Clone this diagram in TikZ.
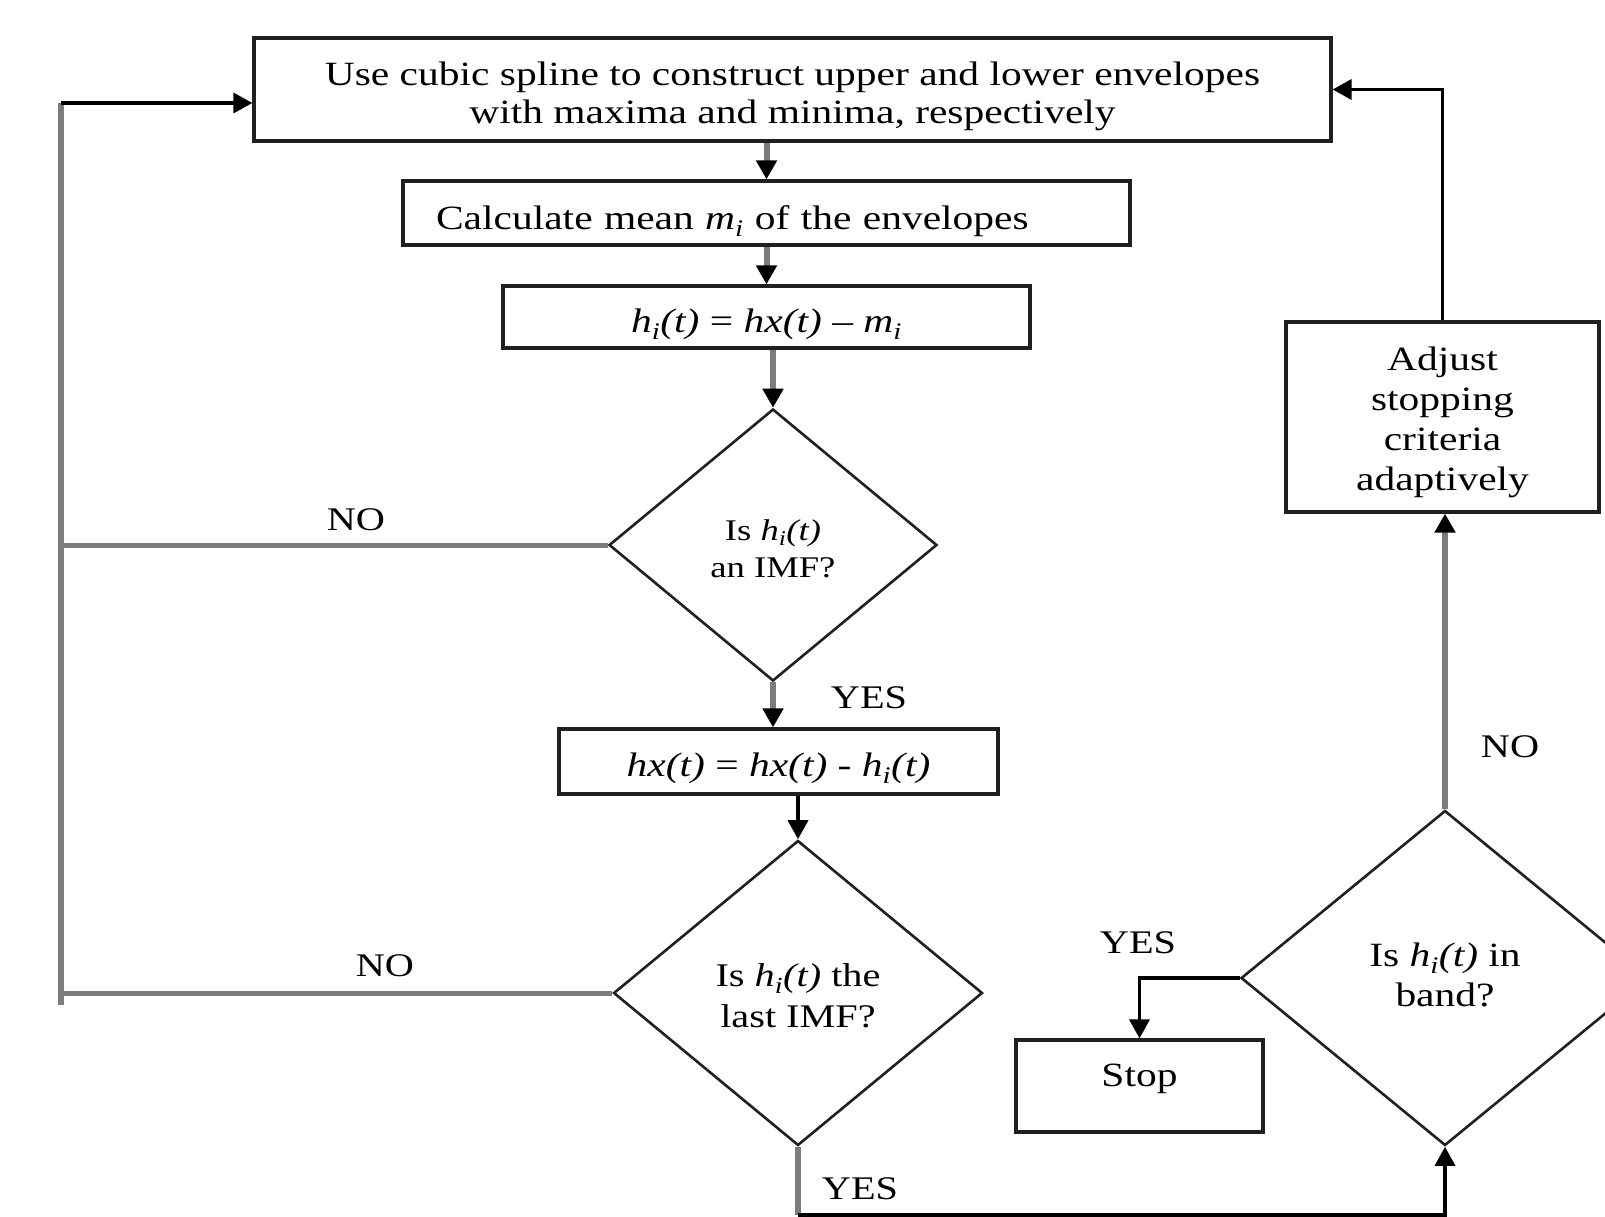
\documentclass[tikz,border=0pt]{standalone}
\usepackage{fontspec}
\setmainfont{Liberation Serif}[FakeStretch=1.22]
\usetikzlibrary{shapes.geometric,arrows.meta}
\definecolor{boxc}{HTML}{202020}
\definecolor{grayc}{HTML}{7c7c7c}
\newcommand\hit{\textit{h}\textsubscript{\textit{i}}\textit{(t)}}
\begin{document}
\begin{tikzpicture}[x=1pt,y=-1pt,
  box/.style={draw=boxc, line width=3.2pt, inner sep=0pt, align=center, font=\fontsize{34}{38}\selectfont},
  dia/.style={diamond, draw=boxc, line width=2.6pt, inner sep=0pt, align=center},
  gl/.style={draw=grayc, line width=6pt},
  gln/.style={draw=grayc, line width=5pt},
  bl/.style={draw=black, line width=3.5pt},
  arr/.style={-{Triangle[width=20pt,length=19pt,color=black]}},
  lab/.style={font=\fontsize{33}{38}\selectfont, inner sep=0pt}]
\useasboundingbox (0,0) rectangle (1605,1217);
\clip (0,0) rectangle (1605,1217);
\fill[white] (0,0) rectangle (1605,1217);

\node[box, minimum width=1077pt, minimum height=103pt, text height=77pt, text depth=8pt] (b1) at (792.5,89.5)
  {Use cubic spline to construct upper and lower envelopes\\with maxima and minima, respectively};
\node[box, minimum height=64pt, text width=661pt, inner xsep=33pt, align=left, text height=41pt, text depth=8pt] (b2) at (766.5,213)
  {Calculate mean \textit{m}\textsubscript{\textit{i}} of the envelopes};
\node[box, minimum width=527pt, minimum height=62pt, text height=38pt, text depth=8pt] (b3) at (766.5,317)
  {\hit{} = \textit{hx(t)} – \textit{m}\textsubscript{\textit{i}}};
\node[dia, minimum width=328pt, minimum height=272pt, font=\fontsize{30}{37}\selectfont, text height=72pt, text depth=8pt] (d1) at (773,545)
  {Is \hit\\an IMF?};
\node[box, minimum width=439pt, minimum height=65pt, text height=37pt, text depth=8pt] (b4) at (778.5,761.5)
  {\textit{hx(t)} = \textit{hx(t)} - \hit};
\node[dia, minimum width=369pt, minimum height=305pt, font=\fontsize{33}{41}\selectfont, text height=77pt, text depth=8pt] (d2) at (798,993)
  {Is \hit{} the\\last IMF?};
\node[dia, minimum width=408pt, minimum height=335pt, font=\fontsize{34}{40}\selectfont, text height=65pt, text depth=8pt] (d3) at (1445,978)
  {Is \hit{} in\\band?};
\node[box, minimum width=313pt, minimum height=190pt, font=\fontsize{34}{40}\selectfont, text height=155pt, text depth=8pt] (adj) at (1442.5,417)
  {Adjust\\stopping\\criteria\\adaptively};
\node[box, minimum width=247pt, minimum height=92pt, text height=31pt, text depth=30pt] (stop) at (1139.5,1086)
  {Stop};

\coordinate (L) at (61,103);
\coordinate (Bot) at (0,1215);

\draw[gl,arr] (b1.south -| b2.north) -- (b2.north);
\draw[gl,arr] (b2.south -| b3.north) -- (b3.north);
\draw[gl,arr] (b3.south -| d1.north) -- (d1.north);
\draw[gl,arr] (d1.south) -- (d1.south |- b4.north);
\draw[bl,arr] (b4.south -| d2.north) -- (d2.north);

\draw[gl] (L) -- (L |- d2.west) -- ++(0,12);
\draw[gln] (d2.west) -- (d2.west -| L);
\draw[gln] (d1.west) -- (d1.west -| L);
\draw[bl,arr] (L) -- (L -| b1.west);

\draw[gl] (d2.south) -- (d2.south |- Bot);
\draw[bl,arr] (d2.south |- Bot) -| (d3.south);
\draw[gl,arr] (d3.north) -- (d3.north |- adj.south);
\draw[bl,arr] (adj.north) |- (b1.east);
\draw[bl,arr] (d3.west) -| (stop.north);

\node[lab] (no1) at (356,520) {NO};
\node[lab] (no2) at (385,966) {NO};
\node[lab] (yes1) at (869,698) {YES};
\node[lab] (yes2) at (860,1189) {YES};
\node[lab] (yes3) at (1138,943) {YES};
\node[lab] (no3) at (1510,747) {NO};
\end{tikzpicture}
\end{document}
